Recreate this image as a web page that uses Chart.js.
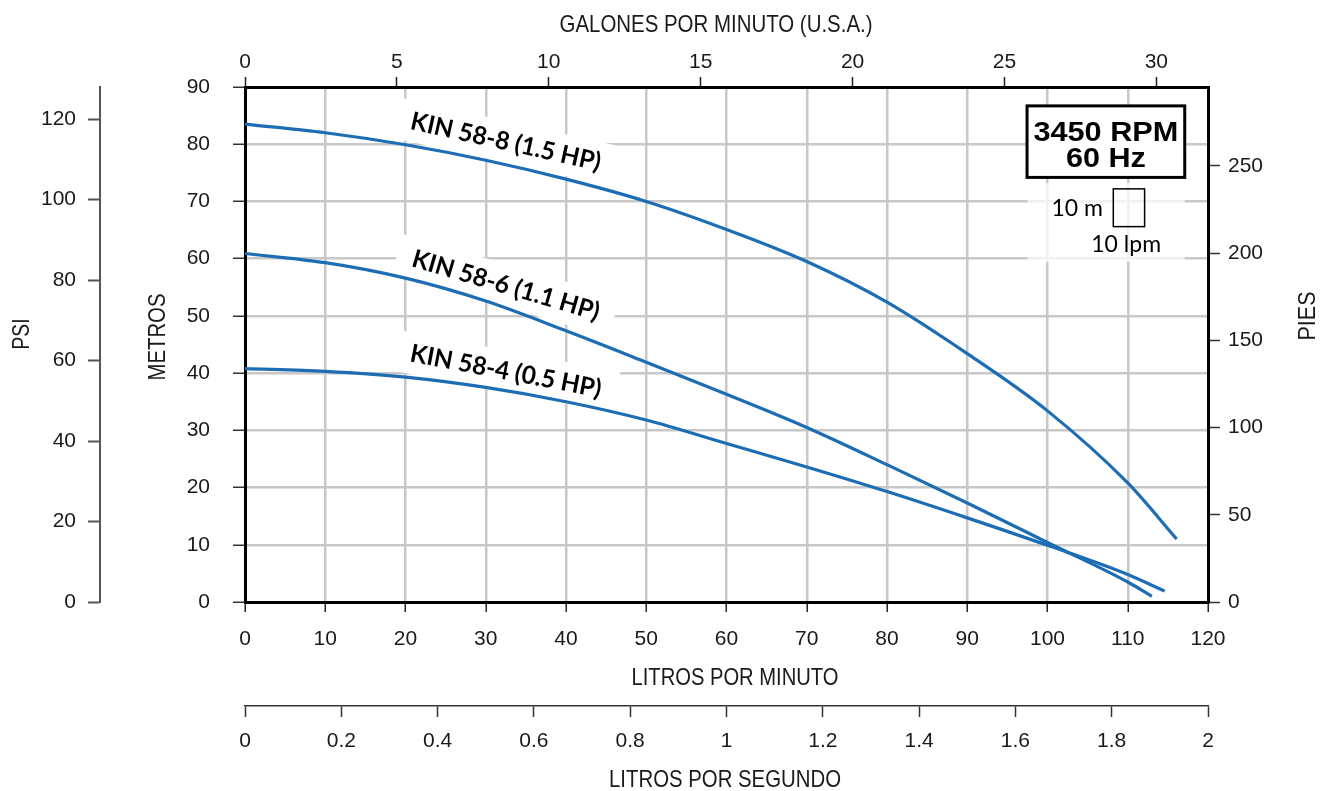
<!DOCTYPE html>
<html>
<head>
<meta charset="utf-8">
<script src="https://cdn.jsdelivr.net/npm/chart.js@4/dist/chart.umd.min.js"></script>
<style>
html,body{margin:0;padding:0;background:#fff;overflow:hidden}
#wrap{width:1331px;height:791px;position:relative}
canvas{display:block}
</style>
</head>
<body>
<div id="wrap"><canvas id="c" width="1331" height="791"></canvas></div>
<script>
// ---------- DATA ----------
const flow588 = [0, 10, 20, 30, 40, 50, 60, 70, 80, 90, 100, 110, 116.1];
const head588 = [83.5, 82.0, 79.9, 77.2, 73.9, 70.0, 65.1, 59.5, 52.4, 43.4, 33.4, 20.8, 11.0];
const flow586 = [0, 10, 20, 30, 40, 50, 60, 70, 80, 90, 100, 110, 113.0];
const head586 = [60.9, 59.3, 56.6, 52.6, 47.4, 41.9, 36.3, 30.5, 24.0, 17.3, 10.4, 3.5, 1.0];
const flow584 = [0, 10, 20, 30, 40, 50, 60, 70, 80, 90, 100, 110, 114.6];
const head584 = [40.8, 40.3, 39.3, 37.5, 35.0, 31.8, 27.7, 23.6, 19.3, 14.7, 9.9, 4.8, 1.9];
const seriesNames = ['KIN 58-8 (1.5 HP)', 'KIN 58-6 (1.1 HP)', 'KIN 58-4 (0.5 HP)'];

const lpmTicks = [0, 10, 20, 30, 40, 50, 60, 70, 80, 90, 100, 110, 120];
const galTicks = [0, 5, 10, 15, 20, 25, 30];
const lpsTicks = [0, 0.2, 0.4, 0.6, 0.8, 1, 1.2, 1.4, 1.6, 1.8, 2];
const metrosTicks = [0, 10, 20, 30, 40, 50, 60, 70, 80, 90];
const psiTicks = [0, 20, 40, 60, 80, 100, 120];
const piesTicks = [0, 50, 100, 150, 200, 250];

const titles = {
  top: 'GALONES POR MINUTO (U.S.A.)',
  bottom: 'LITROS POR MINUTO',
  bottom2: 'LITROS POR SEGUNDO',
  left: 'METROS',
  left2: 'PSI',
  right: 'PIES'
};
const infoLines = ['3450 RPM', '60 Hz'];
const scaleNote = ['10 m', '10 lpm'];

// unit conversions
const LPM_PER_GAL = 3.785411784;
const PSI_PER_M = 1.4219702;
const FT_PER_M = 3.2808399;
const LPM_MAX = 120, M_MAX = 90;

// ---------- FONTS ----------
function hasFont(name) {
  const c = document.createElement('canvas').getContext('2d');
  c.font = '40px monospace';
  const a = c.measureText('METROS 0123456789').width;
  c.font = '40px "' + name + '", monospace';
  const b = c.measureText('METROS 0123456789').width;
  return Math.abs(a - b) > 0.5;
}
const NARROW = hasFont('Liberation Sans Narrow');
const FAM = NARROW ? '"Liberation Sans Narrow", "Arial Narrow", sans-serif' : '"Liberation Sans", Arial, sans-serif';
const TICK_SIZE = NARROW ? 23 : 21;
const TICK_FONT = {family: FAM, size: TICK_SIZE, lineHeight: 1};
const TICK_COLOR = '#1a1a1a';
const LABEL_FAM = 'Lato, "Open Sans", sans-serif';

const setTicks = arr => (s => { s.ticks = arr.map(v => ({value: v})); });
const fmt = v => String(+(+v).toFixed(1));

// ---------- ANNOTATION LAYOUT (data coords for in-plot items) ----------
const curveLabels = [
  {text: seriesNames[0], x: 32.5, y: 80.4, angle: 12.5},
  {text: seriesNames[1], x: 32.5, y: 55.3, angle: 16.3},
  {text: seriesNames[2], x: 32.5, y: 40.3, angle: 10.8}
];
const LABEL_SIZE = 25, LABEL_LEN = 194;

function drawStretched(ctx, text, cx, cy, size, family, weight, targetW, rot) {
  ctx.save();
  ctx.translate(cx, cy);
  if (rot) ctx.rotate(rot);
  ctx.font = (weight ? weight + ' ' : '') + size + 'px ' + family;
  const w = ctx.measureText(text).width;
  const sx = targetW ? targetW / w : 1;
  ctx.scale(sx, 1);
  ctx.textAlign = 'center';
  ctx.textBaseline = 'middle';
  ctx.fillText(text, 0, 0);
  ctx.restore();
}

const overlay = {
  id: 'overlay',
  beforeDatasetsDraw(chart) {
    const ctx = chart.ctx, xs = chart.scales.x, ys = chart.scales.y;
    ctx.save();
    // white boxes behind the curve labels
    for (const L of curveLabels) {
      const cx = xs.getPixelForValue(L.x), cy = ys.getPixelForValue(L.y);
      ctx.save();
      ctx.translate(cx, cy);
      ctx.rotate(L.angle * Math.PI / 180);
      ctx.fillStyle = '#fff';
      ctx.fillRect(-LABEL_LEN / 2 - 16, -LABEL_SIZE * 0.5 - 8, LABEL_LEN + 32, LABEL_SIZE + 16);
      ctx.restore();
    }
    // translucent area behind the scale note
    const nx0 = xs.getPixelForValue(97.5), nx1 = xs.getPixelForValue(117.1);
    const ny0 = ys.getPixelForValue(73.2), ny1 = ys.getPixelForValue(59.4);
    ctx.fillStyle = 'rgba(255,255,255,0.75)';
    ctx.fillRect(nx0, ny0, nx1 - nx0, ny1 - ny0);
    ctx.restore();
  },
  afterDatasetsDraw(chart) {
    const ctx = chart.ctx, xs = chart.scales.x, ys = chart.scales.y;
    ctx.save();
    // curve labels
    ctx.fillStyle = '#000';
    for (const L of curveLabels) {
      const cx = xs.getPixelForValue(L.x), cy = ys.getPixelForValue(L.y);
      drawStretched(ctx, L.text, cx, cy, LABEL_SIZE, LABEL_FAM, 'bold', LABEL_LEN, L.angle * Math.PI / 180);
    }
    // RPM box
    const bx0 = xs.getPixelForValue(97.45), bx1 = xs.getPixelForValue(117.1);
    const by0 = ys.getPixelForValue(86.7), by1 = ys.getPixelForValue(74.2);
    ctx.fillStyle = '#fff';
    ctx.fillRect(bx0, by0, bx1 - bx0, by1 - by0);
    ctx.strokeStyle = '#000';
    ctx.lineWidth = 3;
    ctx.strokeRect(bx0, by0, bx1 - bx0, by1 - by0);
    ctx.fillStyle = '#000';
    const bcx = (bx0 + bx1) / 2;
    drawStretched(ctx, infoLines[0], bcx, by0 + 28, 27, '"Liberation Sans", Arial, sans-serif', 'bold', 145);
    drawStretched(ctx, infoLines[1], bcx, by0 + 54, 27, '"Liberation Sans", Arial, sans-serif', 'bold', 80);
    // scale note: square + texts
    const sx0 = xs.getPixelForValue(108.2), sx1 = xs.getPixelForValue(112.1);
    const sy0 = ys.getPixelForValue(72.2), sy1 = ys.getPixelForValue(65.6);
    ctx.strokeStyle = '#000';
    ctx.lineWidth = 1.5;
    ctx.strokeRect(sx0, sy0, sx1 - sx0, sy1 - sy0);
    ctx.font = '23px ' + LABEL_FAM;
    ctx.textBaseline = 'middle';
    ctx.textAlign = 'right';
    ctx.fillText(scaleNote[0], xs.getPixelForValue(106.9), ys.getPixelForValue(68.7));
    ctx.textAlign = 'center';
    ctx.fillText(scaleNote[1], xs.getPixelForValue(109.8), ys.getPixelForValue(62.4));
    ctx.restore();
  },
  afterDraw(chart) {
    const ctx = chart.ctx;
    ctx.save();
    ctx.fillStyle = '#1a1a1a';
    const TS = 24;
    drawStretched(ctx, titles.top, 716, 25, TS, FAM, '', 313);
    drawStretched(ctx, titles.bottom, 735, 678, TS, FAM, '', 207);
    drawStretched(ctx, titles.bottom2, 725, 780, TS, FAM, '', 232);
    drawStretched(ctx, titles.left, 158, 337, TS, FAM, '', 87, -Math.PI / 2);
    drawStretched(ctx, titles.left2, 22, 334, TS, FAM, '', 31, -Math.PI / 2);
    drawStretched(ctx, titles.right, 1308, 316, TS, FAM, '', 49, -Math.PI / 2);
    ctx.restore();
  }
};

const BLUE = '#1d6db4';
function ds(label, f, h) {
  return {
    label,
    data: f.map((x, i) => ({x, y: h[i]})),
    borderColor: BLUE,
    borderWidth: 3.2,
    pointRadius: 0,
    fill: false,
    cubicInterpolationMode: 'monotone',
    xAxisID: 'x',
    yAxisID: 'y',
    clip: false
  };
}

const GRID = '#c8c8c8';

new Chart(document.getElementById('c'), {
  type: 'line',
  data: {
    datasets: [
      ds(seriesNames[0], flow588, head588),
      ds(seriesNames[1], flow586, head586),
      ds(seriesNames[2], flow584, head584)
    ]
  },
  options: {
    responsive: false,
    animation: false,
    devicePixelRatio: 1,
    layout: {padding: 0},
    plugins: {legend: {display: false}, tooltip: {enabled: false}, title: {display: false}},
    scales: {
      x: {
        type: 'linear', position: 'bottom', weight: 0,
        min: 0, max: LPM_MAX,
        afterBuildTicks: setTicks(lpmTicks),
        afterFit: s => { s.height = 104; },
        grid: {color: GRID, lineWidth: 2.5, tickLength: 10, tickColor: '#222', tickWidth: 1.5},
        border: {color: '#000', width: 3},
        ticks: {font: TICK_FONT, color: TICK_COLOR, padding: 17, maxRotation: 0, autoSkip: false, callback: fmt}
      },
      x3: {
        type: 'linear', position: 'bottom', weight: 1,
        min: 0, max: LPM_MAX / 60,
        afterBuildTicks: setTicks(lpsTicks),
        afterFit: s => { s.height = 85; },
        grid: {drawOnChartArea: false, tickLength: 11, tickColor: '#333', tickWidth: 1.5},
        border: {color: '#333', width: 1.5},
        ticks: {font: TICK_FONT, color: TICK_COLOR, padding: 14, maxRotation: 0, autoSkip: false, callback: fmt}
      },
      x2: {
        type: 'linear', position: 'top', weight: 0,
        min: 0, max: LPM_MAX / LPM_PER_GAL,
        afterBuildTicks: setTicks(galTicks),
        afterFit: s => { s.height = 87; },
        grid: {drawOnChartArea: false, tickLength: 10, tickColor: '#222', tickWidth: 1.5},
        border: {color: '#000', width: 3},
        ticks: {font: TICK_FONT, color: TICK_COLOR, padding: 4, maxRotation: 0, autoSkip: false, callback: fmt}
      },
      y: {
        type: 'linear', position: 'left', weight: 0,
        min: 0, max: M_MAX,
        afterBuildTicks: setTicks(metrosTicks),
        afterFit: s => { s.width = 145; },
        grid: {color: GRID, lineWidth: 2.5, tickLength: 12, tickColor: '#333', tickWidth: 1.5},
        border: {color: '#000', width: 3},
        ticks: {font: TICK_FONT, color: TICK_COLOR, padding: 23, autoSkip: false, callback: fmt}
      },
      y2: {
        type: 'linear', position: 'left', weight: 1,
        min: 0, max: M_MAX * PSI_PER_M,
        afterBuildTicks: setTicks(psiTicks),
        afterFit: s => { s.width = 100; },
        grid: {drawOnChartArea: false, tickLength: 12, tickColor: '#555', tickWidth: 2},
        border: {color: '#555', width: 2},
        ticks: {font: TICK_FONT, color: TICK_COLOR, padding: 12, autoSkip: false, callback: fmt}
      },
      y3: {
        type: 'linear', position: 'right', weight: 0,
        min: 0, max: M_MAX * FT_PER_M,
        afterBuildTicks: setTicks(piesTicks),
        afterFit: s => { s.width = 123; },
        grid: {drawOnChartArea: false, tickLength: 12, tickColor: '#333', tickWidth: 1.5},
        border: {color: '#000', width: 3},
        ticks: {font: TICK_FONT, color: TICK_COLOR, padding: 8, autoSkip: false, callback: fmt}
      }
    }
  },
  plugins: [overlay]
});
</script>
</body>
</html>
